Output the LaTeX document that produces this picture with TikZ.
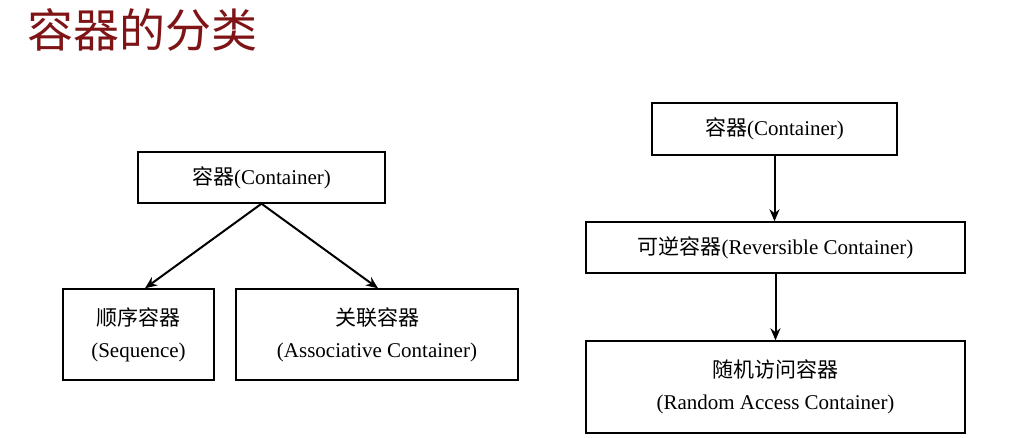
\documentclass[tikz,border=0pt]{standalone}
\usepackage{fontspec}
\setmainfont{Liberation Serif}
\newfontfamily\cjk{Noto Sans CJK SC}
\usetikzlibrary{arrows.meta}
\definecolor{titlered}{HTML}{7F1416}
\begin{document}
\begin{tikzpicture}[x=1pt,y=-1pt,
  box/.style={draw,line width=1.4pt,inner sep=0pt,align=center,font=\fontsize{21}{32}\selectfont},
  arr/.style={line width=2pt,-{Stealth[length=12pt,width=10pt]}}]
\useasboundingbox[fill=white] (0,0) rectangle (1023,438);
\node[anchor=west,text=titlered,font=\cjk\fontsize{46}{50}\selectfont] (title) at (24,30) {容器的分类};
\node[box,minimum width=247pt,minimum height=51pt] (c1) at (261.5,177.5) {{\cjk 容器}(Container)};
\node[box,minimum width=151pt,minimum height=91pt] (seq) at (138.5,334.5) {{\cjk 顺序容器}\\(Sequence)};
\node[box,minimum width=282pt,minimum height=91pt] (asc) at (377,334.5) {{\cjk 关联容器}\\(Associative Container)};
\node[box,minimum width=245pt,minimum height=52pt] (c2) at (774.5,129) {{\cjk 容器}(Container)};
\node[box,minimum width=379pt,minimum height=51pt] (rev) at (775.5,247.5) {{\cjk 可逆容器}(Reversible Container)};
\node[box,minimum width=379pt,minimum height=92pt] (ran) at (775.5,387) {{\cjk 随机访问容器}\\(Random Access Container)};
\draw[arr] (c1.south) -- (seq.north -| 145,0);
\draw[arr] (c1.south) -- (asc.north -| 378,0);
\draw[arr] (c2.south) -- (rev.north -| c2.south);
\draw[arr] (rev.south) -- (ran.north);
\end{tikzpicture}
\end{document}
